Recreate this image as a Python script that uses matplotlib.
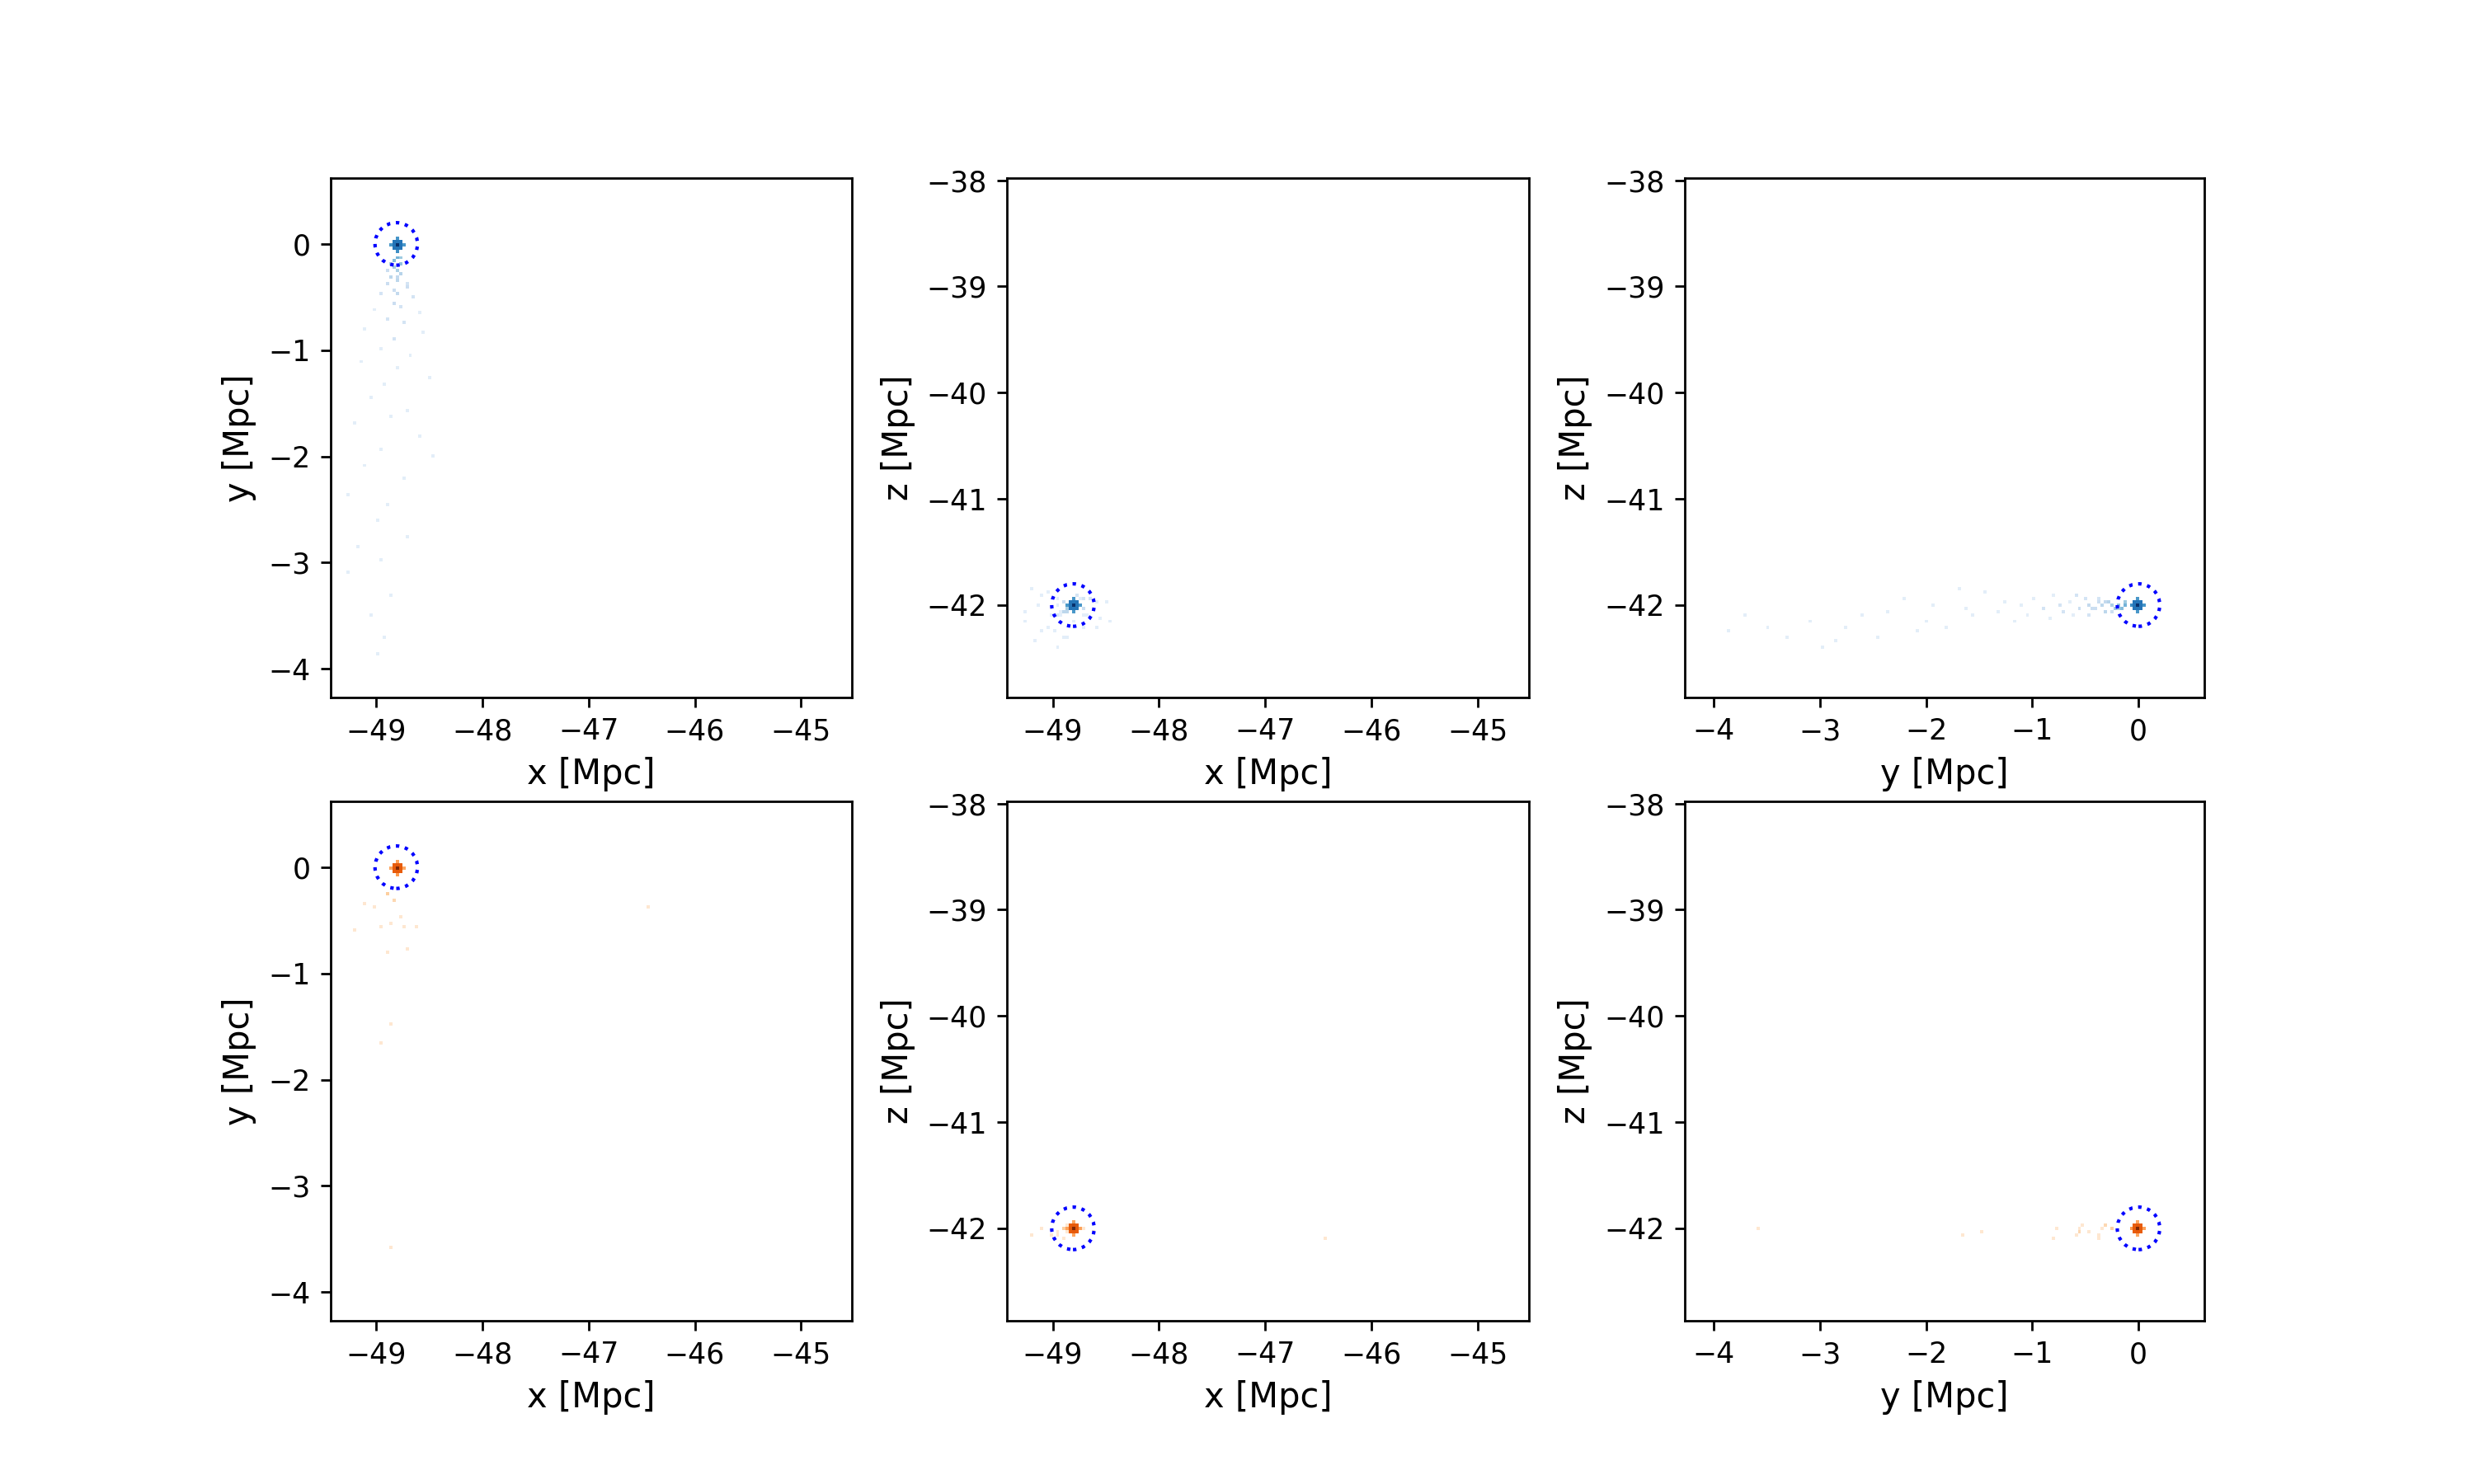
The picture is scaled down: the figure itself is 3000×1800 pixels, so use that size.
import matplotlib.pyplot as plt
import numpy as np
from matplotlib.colors import LogNorm

# halo centre and circle radius [Mpc]
cen_x, cen_y, cen_z = -48.81, 0.0, -42.0
r_circ = 0.2

# plotted ranges [Mpc]
x_lim = [-49.43, -44.52]
y_lim = [-4.27, 0.62]
z_lim = [-42.87, -37.98]
nbins = 160

# core: offsets from centre and counts
core_dx = [0, 0.03, -0.03, 0, 0, 0, 0, 0.06, -0.06, 0, 0, 0, 0,
           0.03, 0.03, -0.03, -0.03, 0.03, 0.03, -0.03, -0.03]
core_dy = [0, 0, 0, 0.03, -0.03, 0, 0, 0, 0, 0.06, -0.06, 0, 0,
           0.03, -0.03, 0.03, -0.03, 0.03, -0.03, 0.03, -0.03]
core_dz = [0, 0, 0, 0, 0, 0.03, -0.03, 0, 0, 0, 0, 0.06, -0.06,
           0.03, 0.03, 0.03, 0.03, -0.03, -0.03, -0.03, -0.03]
dm_core_w = [2500, 300, 300, 300, 300, 300, 300, 90, 90, 100, 120, 90, 90,
             150, 150, 150, 150, 150, 150, 150, 150]
st_core_w = [900, 90, 90, 90, 90, 90, 90, 10, 10, 12, 15, 10, 10,
             40, 40, 40, 40, 40, 40, 40, 40]

# dark matter stream particles
dm_x = [-48.80, -48.82, -48.78, -48.84, -48.80, -48.76, -48.86, -48.81, -48.90, -48.72,
        -48.81, -48.95, -48.66, -48.84, -48.78, -49.02, -48.60, -48.88, -48.74, -49.10,
        -48.55, -48.82, -48.95, -48.68, -49.15, -48.80, -48.50, -48.92, -49.05, -48.70,
        -48.86, -49.20, -48.60, -48.95, -48.45, -49.10, -48.75, -49.25, -48.90, -49.00,
        -48.70, -49.18, -48.95, -49.25, -48.85, -49.05, -48.92, -49.00,
        -48.77, -48.85, -48.79, -48.83, -48.90, -48.70]
dm_y = [-0.12, -0.15, -0.18, -0.21, -0.25, -0.28, -0.30, -0.34, -0.38, -0.40,
        -0.45, -0.48, -0.50, -0.55, -0.60, -0.62, -0.66, -0.70, -0.75, -0.80,
        -0.84, -0.90, -0.97, -1.05, -1.10, -1.18, -1.25, -1.32, -1.45, -1.55,
        -1.62, -1.70, -1.80, -1.92, -2.00, -2.10, -2.22, -2.35, -2.45, -2.60,
        -2.75, -2.85, -2.98, -3.10, -3.30, -3.50, -3.70, -3.85,
        -0.14, -0.20, -0.31, -0.42, -0.26, -0.36]
dm_z = [-42.00, -42.02, -41.99, -42.03, -42.00, -41.97, -42.05, -42.01, -41.96, -42.04,
        -42.00, -42.08, -41.95, -42.02, -41.92, -42.10, -41.98, -42.06, -42.00, -41.90,
        -42.12, -42.03, -41.94, -42.08, -42.00, -42.15, -41.96, -42.05, -41.88, -42.10,
        -42.02, -41.85, -42.20, -42.00, -42.15, -42.25, -41.95, -42.05, -42.30, -42.10,
        -42.20, -42.35, -42.40, -42.15, -42.30, -42.20, -42.10, -42.25,
        -41.98, -42.04, -41.97, -42.02, -42.06, -41.95]
dm_w = [30, 20, 15, 10, 8, 6, 5, 5, 3, 3,
        4, 2, 2, 3, 2, 1, 1, 2, 2, 1,
        1, 2, 1, 1, 1, 1, 1, 1, 1, 1,
        1, 1, 1, 1, 1, 1, 1, 1, 1, 1,
        1, 1, 1, 1, 1, 1, 1, 1,
        12, 8, 4, 3, 3, 2]

# star particles outside the core
st_x = [-48.88, -48.84, -49.02, -46.43, -48.96, -48.86, -48.78, -48.73, -48.63,
        -48.90, -48.70, -48.86, -48.94, -48.86, -49.10, -49.20]
st_y = [-0.25, -0.30, -0.37, -0.37, -0.55, -0.52, -0.45, -0.55, -0.55,
        -0.80, -0.78, -1.47, -1.66, -3.57, -0.35, -0.60]
st_z = [-42.01, -41.98, -42.05, -42.10, -42.02, -41.97, -42.04, -42.00, -42.03,
        -42.08, -41.99, -42.02, -42.05, -42.00, -42.00, -42.06]
st_w = [3, 2, 1, 1, 1, 1, 1, 1, 1, 1, 1, 1, 1, 1, 1, 1]

dm_px = np.concatenate([cen_x + np.array(core_dx), dm_x])
dm_py = np.concatenate([cen_y + np.array(core_dy), dm_y])
dm_pz = np.concatenate([cen_z + np.array(core_dz), dm_z])
dm_pw = np.concatenate([dm_core_w, dm_w])

st_px = np.concatenate([cen_x + np.array(core_dx), st_x])
st_py = np.concatenate([cen_y + np.array(core_dy), st_y])
st_pz = np.concatenate([cen_z + np.array(core_dz), st_z])
st_pw = np.concatenate([st_core_w, st_w])

fig, axs = plt.subplots(2, 3, figsize=(12, 7.2))

rows = [(dm_px, dm_py, dm_pz, dm_pw, 'Blues'),
        (st_px, st_py, st_pz, st_pw, 'Oranges')]
for i, (px, py, pz, pw, cm) in enumerate(rows):
    pairs = [(px, py, x_lim, y_lim, cen_x, cen_y, 'x [Mpc]', 'y [Mpc]'),
             (px, pz, x_lim, z_lim, cen_x, cen_z, 'x [Mpc]', 'z [Mpc]'),
             (py, pz, y_lim, z_lim, cen_y, cen_z, 'y [Mpc]', 'z [Mpc]')]
    for j, (a, b, la, lb, ca, cb, xl, yl) in enumerate(pairs):
        ax = axs[i, j]
        ax.hist2d(a, b, bins=nbins, range=[la, lb], weights=pw,
                  cmap=cm, norm=LogNorm(vmin=0.4), cmin=0.5)
        ax.add_patch(plt.Circle((ca, cb), r_circ, fill=False, ls=':', color='b', lw=1.2))
        ax.set_xlim(la)
        ax.set_ylim(lb)
        ax.set_aspect('equal')
        ax.set_xlabel(xl, fontsize=12)
        ax.set_ylabel(yl, fontsize=12)

plt.savefig('out.png', dpi=250)
